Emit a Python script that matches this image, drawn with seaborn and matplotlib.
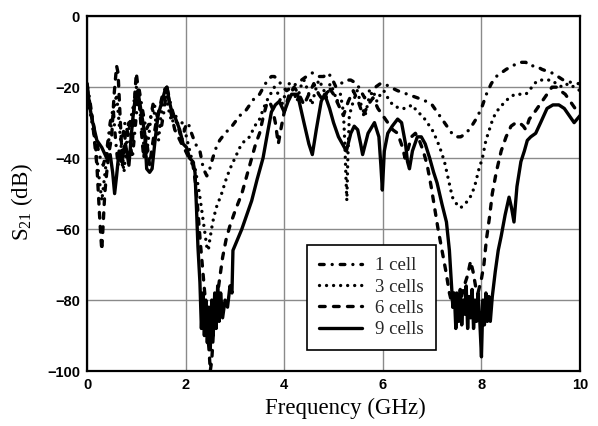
import matplotlib
matplotlib.use("Agg")
import matplotlib.pyplot as plt
import seaborn as sns

sns.set_theme(style="whitegrid")
plt.rcParams['font.family'] = ['Liberation Sans', 'DejaVu Sans']
plt.rcParams['mathtext.fontset'] = 'custom'
plt.rcParams['mathtext.rm'] = 'Liberation Serif'
plt.rcParams['mathtext.it'] = 'Liberation Serif:italic'

# ---- data (frequency in GHz, S21 in dB) ----
freq_1cell = [0, 0.05, 0.1, 0.15, 0.2, 0.27, 0.33, 0.4, 0.47, 0.53,
              0.58, 0.63, 0.7, 0.77, 0.85, 0.92, 1.0, 1.05, 1.12, 1.2,
              1.27, 1.35, 1.42, 1.5, 1.57, 1.62, 1.7, 1.78, 1.85, 1.92,
              2.0, 2.05, 2.12, 2.2, 2.29, 2.36, 2.43, 2.49, 2.55, 2.62,
              2.69, 2.8, 2.94, 3.1, 3.2, 3.3, 3.4, 3.5, 3.58, 3.66,
              3.74, 3.8, 3.88, 3.97, 4.05, 4.15, 4.25, 4.35, 4.45, 4.57,
              4.7, 4.8, 4.88, 4.95, 5.05, 5.15, 5.25, 5.35, 5.47, 5.55,
              5.63, 5.73, 5.85, 5.95, 6.03, 6.15, 6.3, 6.5, 6.7, 6.88,
              7.0, 7.1, 7.2, 7.3, 7.4, 7.49, 7.58, 7.69, 7.8, 7.89,
              8.0, 8.1, 8.2, 8.3, 8.4, 8.5, 8.63, 8.77, 8.9, 8.97,
              9.1, 9.23, 9.33, 9.43, 9.55, 9.66, 9.78, 9.9, 10.0]
s21_1cell = [-19, -23, -28, -32, -36, -40, -42, -38, -30, -26,
             -35, -42, -36, -30, -34, -40, -28, -20, -26, -32,
             -30, -24, -28, -32, -26, -20, -25, -29, -31, -35,
             -31, -30, -33, -36, -38, -43, -45, -43, -40, -37,
             -35, -33, -31, -28, -27, -25, -23, -22, -20, -18,
             -17, -17, -18, -20, -21, -20, -19, -18, -17, -16,
             -17, -17, -16, -17, -20, -19, -18, -18, -19, -21,
             -23, -21, -20, -19, -19, -20, -21, -22, -23, -24,
             -25, -27, -29, -31, -33, -34, -34, -33, -31, -29,
             -26, -22, -19, -17, -16, -15, -14, -13, -13, -14,
             -14, -15, -15.5, -16, -17, -18, -18.5, -19, -19]

freq_3cells = [0, 0.05, 0.1, 0.15, 0.2, 0.25, 0.3, 0.35, 0.4, 0.45,
               0.5, 0.55, 0.6, 0.65, 0.7, 0.75, 0.8, 0.87, 0.93, 1.0,
               1.05, 1.1, 1.15, 1.2, 1.25, 1.3, 1.35, 1.4, 1.45, 1.5,
               1.55, 1.6, 1.65, 1.72, 1.8, 1.87, 1.93, 2.0, 2.05, 2.12,
               2.18, 2.22, 2.28, 2.33, 2.38, 2.43, 2.46, 2.49, 2.55, 2.62,
               2.73, 2.82, 2.9, 3.0, 3.1, 3.2, 3.3, 3.4, 3.5, 3.58,
               3.64, 3.72, 3.8, 3.88, 3.95, 4.02, 4.1, 4.18, 4.26, 4.33,
               4.4, 4.48, 4.56, 4.63, 4.7, 4.78, 4.86, 4.93, 5.0, 5.07,
               5.14, 5.2, 5.23, 5.25, 5.27, 5.29, 5.32, 5.4, 5.48, 5.56,
               5.64, 5.72, 5.8, 5.88, 5.95, 6.02, 6.1, 6.2, 6.34, 6.45,
               6.6, 6.7, 6.8, 6.9, 7.0, 7.1, 7.18, 7.25, 7.33, 7.41,
               7.5, 7.58, 7.65, 7.73, 7.81, 7.88, 7.95, 8.02, 8.09, 8.16,
               8.23, 8.3, 8.42, 8.56, 8.68, 8.8, 8.9, 8.97, 9.07, 9.17,
               9.3, 9.41, 9.52, 9.64, 9.76, 9.88, 10.0]
s21_3cells = [-20, -26, -30, -34, -40, -46, -52, -46, -40, -34,
              -30, -26, -22, -30, -38, -44, -36, -30, -26, -20,
              -24, -30, -36, -40, -34, -28, -26, -30, -35, -28,
              -24, -22, -26, -30, -28, -32, -30, -33, -36, -40,
              -42, -45, -50, -55, -60, -65, -66, -63, -58, -54,
              -50, -46, -43, -40, -37, -35, -34, -31, -29, -26,
              -24, -22, -20, -22, -25, -22, -19, -21, -24, -20,
              -18, -21, -25, -21, -18, -20, -23, -19, -21, -24,
              -22, -27, -36, -45, -52, -40, -28, -24, -21, -25,
              -28, -23, -21, -24, -22, -21, -23, -25, -26, -26,
              -25, -27, -28, -30, -32, -35, -38, -41, -46, -51,
              -53, -54, -53, -52, -50, -47, -43, -40, -35, -32,
              -29, -27, -25, -23, -22, -22, -22, -21, -19, -18,
              -18, -18, -19, -20, -19, -20, -21]

freq_6cells = [0, 0.05, 0.1, 0.15, 0.2, 0.25, 0.28, 0.3, 0.33, 0.36,
               0.4, 0.45, 0.5, 0.55, 0.6, 0.63, 0.67, 0.72, 0.78, 0.85,
               0.92, 0.97, 1.0, 1.05, 1.1, 1.15, 1.2, 1.27, 1.33, 1.4,
               1.47, 1.55, 1.62, 1.7, 1.78, 1.85, 1.92, 2.0, 2.07, 2.15,
               2.2, 2.25, 2.3, 2.35, 2.4, 2.44, 2.48, 2.5, 2.53, 2.56,
               2.6, 2.65, 2.69, 2.75, 2.82, 2.9, 3.0, 3.14, 3.24, 3.34,
               3.42, 3.5, 3.58, 3.64, 3.7, 3.76, 3.82, 3.88, 3.93, 4.0,
               4.1, 4.2, 4.3, 4.4, 4.5, 4.6, 4.7, 4.8, 4.9, 5.0,
               5.1, 5.2, 5.3, 5.4, 5.5, 5.6, 5.7, 5.8, 5.9, 6.0,
               6.1, 6.2, 6.3, 6.4, 6.45, 6.5, 6.58, 6.66, 6.74, 6.82,
               6.9, 6.98, 7.05, 7.12, 7.2, 7.28, 7.35, 7.42, 7.5, 7.58,
               7.65, 7.72, 7.78, 7.83, 7.88, 7.93, 8.0, 8.05, 8.1, 8.16,
               8.22, 8.3, 8.4, 8.5, 8.6, 8.7, 8.77, 8.85, 8.9, 8.97,
               9.03, 9.13, 9.23, 9.33, 9.43, 9.52, 9.6, 9.7, 9.8, 9.9,
               10.0]
s21_6cells = [-20, -24, -28, -35, -42, -55, -62, -66, -58, -50,
              -44, -38, -34, -22, -14, -16, -28, -42, -33, -30,
              -36, -22, -16, -22, -32, -40, -34, -42, -36, -30,
              -26, -21, -20, -27, -32, -34, -36, -38, -40, -42,
              -47, -55, -64, -72, -80, -88, -95, -100, -97, -90,
              -84, -78, -74, -68, -63, -59, -55, -50, -45, -40,
              -36, -33, -28, -25, -24, -26, -30, -36, -32, -27,
              -22, -20, -22, -25, -22, -19, -22, -24, -20, -22,
              -25, -28, -24, -21, -24, -28, -25, -23, -26, -28,
              -30, -32, -33, -37, -40, -38, -34, -33, -35, -38,
              -42, -48, -54, -60, -66, -72, -78, -82, -78, -80,
              -76, -73, -69, -72, -76, -78, -74, -70, -63, -57,
              -50, -44, -38, -34, -31, -30, -30, -31, -32, -29,
              -28, -26, -24, -22, -20, -20, -21, -22, -24, -26,
              -27]

freq_9cells = [0, 0.05, 0.1, 0.15, 0.2, 0.3, 0.4, 0.47, 0.52, 0.56,
               0.6, 0.65, 0.7, 0.78, 0.85, 0.92, 0.97, 1.03, 1.1, 1.17,
               1.21, 1.27, 1.32, 1.38, 1.44, 1.52, 1.58, 1.62, 1.67, 1.72,
               1.8, 1.88, 1.95, 2.02, 2.08, 2.15, 2.19, 2.22, 2.25, 2.29,
               2.32, 2.35, 2.38, 2.41, 2.44, 2.47, 2.5, 2.53, 2.56, 2.59,
               2.62, 2.65, 2.68, 2.71, 2.75, 2.8, 2.85, 2.9, 2.94, 2.96,
               3.05, 3.14, 3.24, 3.34, 3.45, 3.57, 3.66, 3.74, 3.82, 3.9,
               4.0, 4.08, 4.15, 4.27, 4.4, 4.5, 4.57, 4.65, 4.75, 4.82,
               4.92, 5.0, 5.1, 5.18, 5.26, 5.35, 5.42, 5.49, 5.55, 5.59,
               5.7, 5.83, 5.92, 5.96, 5.99, 6.03, 6.1, 6.19, 6.3, 6.38,
               6.46, 6.5, 6.54, 6.6, 6.7, 6.78, 6.86, 6.95, 7.03, 7.1,
               7.2, 7.29, 7.35, 7.39, 7.42, 7.45, 7.48, 7.51, 7.54, 7.57,
               7.6, 7.63, 7.66, 7.69, 7.72, 7.75, 7.78, 7.81, 7.84, 7.87,
               7.9, 7.93, 7.96, 8.0, 8.03, 8.06, 8.09, 8.12, 8.15, 8.18,
               8.22, 8.28, 8.34, 8.4, 8.48, 8.56, 8.61, 8.66, 8.72, 8.8,
               8.87, 8.93, 9.0, 9.1, 9.2, 9.33, 9.45, 9.57, 9.68, 9.78,
               9.88, 9.94, 10.0]
s21_9cells = [-19, -25, -29, -32, -35, -37, -40, -39, -44, -50,
              -45, -38, -41, -36, -42, -30, -24, -21, -27, -33,
              -43, -44, -43, -35, -28, -24, -21, -20, -24, -27,
              -29, -32, -36, -37, -40, -41, -44, -54, -65, -75,
              -88, -78, -90, -80, -92, -82, -94, -80, -90, -78,
              -88, -76, -86, -78, -85, -80, -82, -76, -78, -66,
              -63, -60, -56, -52, -46, -40, -33, -27, -25, -24,
              -27, -24, -22, -22, -30, -36, -39, -32, -24, -22,
              -26, -30, -34, -36, -38, -33, -31, -32, -36, -39,
              -33, -30, -34, -42, -49, -38, -33, -31, -29, -30,
              -36, -41, -43, -38, -34, -34, -36, -40, -44, -47,
              -53, -58, -66, -75, -82, -78, -88, -79, -86, -77,
              -87, -80, -84, -76, -88, -79, -85, -77, -88, -80,
              -86, -78, -84, -96, -80, -87, -78, -86, -79, -86,
              -79, -72, -66, -62, -56, -51, -54, -58, -48, -41,
              -38, -35, -34, -33, -30, -26, -25, -25, -26, -28,
              -30, -29, -28]

labels = ['1 cell', '3 cells', '6 cells', '9 cells']
series = [(freq_1cell, s21_1cell), (freq_3cells, s21_3cells),
          (freq_6cells, s21_6cells), (freq_9cells, s21_9cells)]
# line patterns: dash-dot, dotted, dashed, solid
styles = [(0, (1.4, 2.4, 0.01, 2.4)), (0, (0.01, 2.1)), (0, (1.7, 2.5)), '-']

fig = plt.figure(figsize=(5.98, 4.26), dpi=100)
ax = fig.add_axes([0.1455, 0.129, 0.8245, 0.833])

for (f, s), lab, ls in zip(series, labels, styles):
    sns.lineplot(x=f, y=s, ax=ax, color='black', lw=2.4, linestyle=ls,
                 dash_capstyle='round', estimator=None, sort=False, label=lab)

ax.set_xlim(0, 10)
ax.set_ylim(-100, 0)
ax.set_xticks([0, 2, 4, 6, 8, 10])
ax.set_yticks([0, -20, -40, -60, -80, -100])
ax.grid(True, color='#8a8a8a', lw=1.0)
for sp in ax.spines.values():
    sp.set_color('black')
    sp.set_linewidth(1.6)
ax.tick_params(length=0, labelsize=10.5, colors='black', pad=5)
for t in ax.get_xticklabels() + ax.get_yticklabels():
    t.set_fontweight('bold')

ax.set_xlabel('Frequency (GHz)', fontsize=16.5, family='Liberation Serif', color='black')
ax.set_ylabel('S$_\\mathrm{21}$ (dB)', fontsize=16.5, family='Liberation Serif', color='black')
ax.xaxis.set_label_coords(0.525, -0.075)
ax.yaxis.set_label_coords(-0.105, 0.476)

leg = ax.legend(loc='upper left', bbox_to_anchor=(0.446, 0.355), borderaxespad=0,
                prop={'family': 'Liberation Serif', 'size': 13.5}, frameon=True,
                fancybox=False, framealpha=1, edgecolor='black', handlelength=2.3,
                handletextpad=0.7, labelspacing=0.22, borderpad=0.65)
leg.get_frame().set_linewidth(1.2)

fig.savefig('out.png', dpi=100)
